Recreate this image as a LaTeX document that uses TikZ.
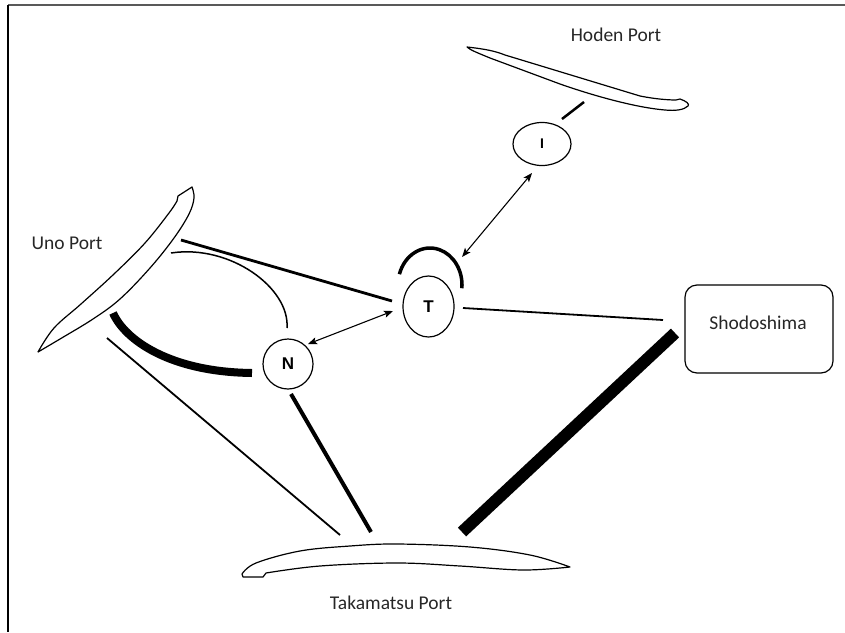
\documentclass[tikz,border=0pt]{standalone}
\usepackage{fontspec}
\setmainfont{Carlito}
\newfontfamily\stopfont{Liberation Sans}
\usetikzlibrary{arrows.meta,shapes.geometric,calc}
\begin{document}
\begin{tikzpicture}[x=1pt,y=-1pt,
  portlabel/.style={font=\fontsize{19.5}{22}\selectfont, text=black!85},
  stop/.style={draw, ellipse, line width=1.2pt, inner sep=0pt,
    font=\stopfont\bfseries\fontsize{17}{19}\selectfont},
  port/.style={draw, line width=1.2pt, fill=white, line join=round},
  ferry/.style={line width=1.1pt,
    {Stealth[length=9pt,width=7pt,inset=2pt]}-{Stealth[length=9pt,width=7pt,inset=2pt]}},
]
\useasboundingbox (0,0) rectangle (845,632);

% frame edges
\draw[black!65, line width=1.5pt] (8,5) -- (845,5);
\draw[line width=1.5pt] (8,5) -- (8,632);

% ---- ports ----
% Hoden Port
\draw[port] (467,47) .. controls (485,49) and (495,51) .. (505,55)
  -- (640,96) .. controls (655,99) and (668,100) .. (676,100)
  -- (680,99) .. controls (686,101) and (690,104) .. (688,106)
  .. controls (684,110) and (675,111) .. (665,110)
  .. controls (640,108) and (600,98) .. (560,84)
  -- (490,58) .. controls (478,53) and (470,50) .. cycle;
% Uno Port
\draw[port] plot[smooth, tension=0.6] coordinates
  {(192,187) (194,198) (189,214) (174,238) (150,268) (120,299) (93,319) (60,339) (38,352)}
  -- plot[smooth, tension=0.6] coordinates
  {(38,352) (54,328) (81,304) (114,274) (145,243) (169,213) (177,201)}
  -- (178,196) -- cycle;
% Takamatsu Port
\draw[port] plot[smooth, tension=0.6] coordinates
  {(242,574) (256,563) (300,551) (350,546) (397,544) (470,547) (530,555) (570,567)}
  -- plot[smooth, tension=0.6] coordinates
  {(570,567) (523,570) (460,566) (397,563) (320,566) (266,573)}
  -- (263,577) -- (243,577) -- cycle;

% ---- labels ----
\node[portlabel] (hoden) at (616,35) {Hoden Port};
\node[portlabel] (uno) at (67,243) {Uno Port};
\node[portlabel] (takamatsu) at (391,603) {Takamatsu Port};

% ---- stops ----
\node[stop, minimum width=58pt, minimum height=43pt] (I) at (542,144)
  {\fontsize{14}{15}\selectfont I};
\node[stop, minimum width=51pt, minimum height=61pt] (T) at (428.5,306.5) {T};
\node[stop, minimum width=50pt, minimum height=50pt] (N) at (288,364) {N};
\node[draw, rounded corners=12pt, line width=1.2pt,
  minimum width=148pt, minimum height=88pt] (S) at (759,329) {};
\node[portlabel] (S-name) at (758,323) {Shodoshima};

% cap over T
\draw[line width=3.5pt] (399.4,274.2)
  arc[start angle=163, end angle=-5, x radius=32pt, y radius=37pt];

% ---- connector ends ----
\coordinate (uno-t) at (181,240);
\coordinate (t-uno) at (392,301);
\coordinate (uno-n1) at (171,253);
\coordinate (n-uno1) at (287,328);
\coordinate (uno-n2) at (113,313);
\coordinate (n-uno2) at (252,373);
\coordinate (uno-tak) at (107,338);
\coordinate (tak-uno) at (340,535);
\coordinate (n-tak) at (291,394);
\coordinate (tak-n) at (371,532);
\coordinate (t-s) at (463,308);
\coordinate (s-t) at (663,320);
\coordinate (s-tak) at (675,333);
\coordinate (tak-s) at (462,532);
\coordinate (i-hoden) at (562,119);
\coordinate (hoden-i) at (584,102);
\coordinate (i-t) at (532,173);
\coordinate (t-i) at (462,257);
\coordinate (t-n) at (393,311);
\coordinate (n-t) at (308,344);

% ---- routes ----
\draw[line width=2.8pt] (uno-t) -- (t-uno);
\draw[line width=1.5pt] (uno-n1) .. controls (230,244) and (290,288) .. (n-uno1);
\draw[line width=8pt] (uno-n2) .. controls (125,340) and (170,372) .. (n-uno2);
\draw[line width=1.8pt] (uno-tak) -- (tak-uno);
\draw[line width=4pt] (n-tak) -- (tak-n);
\draw[line width=1.8pt] (t-s) -- (s-t);
\draw[line width=12pt] (s-tak) -- (tak-s);
\draw[line width=2.5pt] (i-hoden) -- (hoden-i);
\draw[ferry] (i-t) -- (t-i);
\draw[ferry] (t-n) -- (n-t);
\end{tikzpicture}
\end{document}
